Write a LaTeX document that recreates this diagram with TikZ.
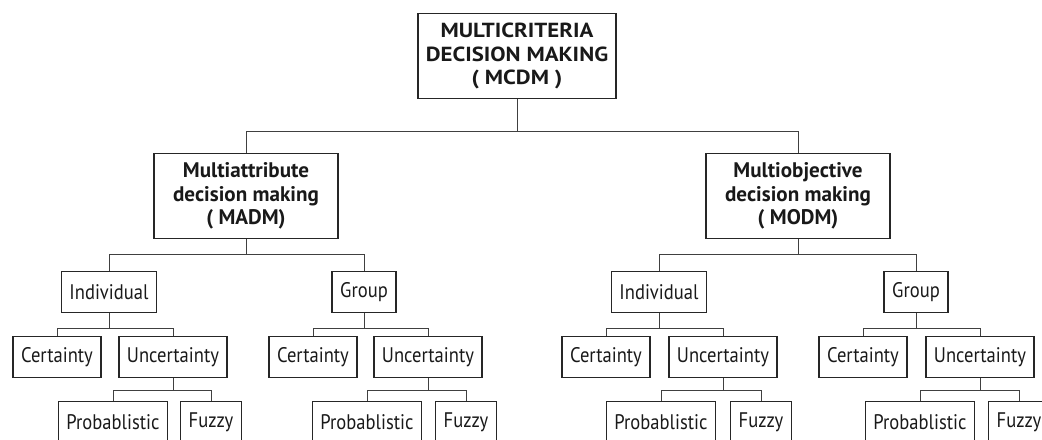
\documentclass[tikz,border=0pt]{standalone}
\usepackage{fontspec}
\setmainfont{PT Sans}
\newfontfamily\leaffont{PT Sans}[FakeStretch=0.88]
\newfontfamily\headfont{PT Sans}[FakeStretch=1.12]
\usetikzlibrary{positioning}

\begin{document}
\begin{tikzpicture}[x=0.025cm, y=0.025cm,
  box/.style={rectangle, draw=black!85, line width=1.1pt, text=black!90, align=center, inner xsep=0.2cm, inner ysep=0pt},
  head/.style={box, font=\headfont\bfseries\fontsize{14.5}{16.5}\selectfont, minimum width=4.55cm, minimum height=2.125cm},
  mid/.style={box, font=\bfseries\fontsize{15}{16.8}\selectfont, minimum width=4.6cm, minimum height=2.125cm},
  leaf/.style={box, font=\leaffont\fontsize{15}{16}\selectfont, minimum height=1.025cm},
  link/.style={draw=black!75, line width=0.7pt}]
  \useasboundingbox (0,0) rectangle (1042,-440);
  \clip (0,0) rectangle (1042,-440);
  % top
  \node[head] (mcdm) at (517,-56) {MULTICRITERIA\\DECISION MAKING\\( MCDM )};
  \node[mid] (madm) at (246,-196) {Multiattribute\\decision making\\( MADM)};
  \node[mid] (modm) at (798,-196) {Multiobjective\\decision making\\( MODM)};
  \draw[link] (mcdm.south) -- ++(0,-32) -| (madm.north);
  \draw[link] (mcdm.south) -- ++(0,-32) -| (modm.north);
  % MADM side
  \node[leaf] (ai) at (109,-292) {Individual};
  \node[leaf] (ag) at (364,-292) {Group};
  \draw[link] (madm.south) -- ++(0,-15) -| (ai.north);
  \draw[link] (madm.south) -- ++(0,-15) -| (ag.north);
  \node[leaf] (aic) at (57,-357) {Certainty};
  \node[leaf] (aiu) at (173,-357) {Uncertainty};
  \node[leaf] (agc) at (313,-357) {Certainty};
  \node[leaf] (agu) at (428,-357) {Uncertainty};
  \draw[link] (ai.south) -- ++(0,-15) -| (aic.north);
  \draw[link] (ai.south) -- ++(0,-15) -| (aiu.north);
  \draw[link] (ag.south) -- ++(0,-15) -| (agc.north);
  \draw[link] (ag.south) -- ++(0,-15) -| (agu.north);
  \node[leaf] (aip) at (113,-422) {Probablistic};
  \node[leaf] (aif) at (211,-422) {Fuzzy};
  \node[leaf] (agp) at (367,-422) {Probablistic};
  \node[leaf] (agf) at (466,-422) {Fuzzy};
  \draw[link] (aiu.south) -- ++(0,-12) -| (aip.north);
  \draw[link] (aiu.south) -- ++(0,-12) -| (aif.north);
  \draw[link] (agu.south) -- ++(0,-12) -| (agp.north);
  \draw[link] (agu.south) -- ++(0,-12) -| (agf.north);
  % MODM side
  \node[leaf] (oi) at (659,-292) {Individual};
  \node[leaf] (og) at (916,-292) {Group};
  \draw[link] (modm.south) -- ++(0,-15) -| (oi.north);
  \draw[link] (modm.south) -- ++(0,-15) -| (og.north);
  \node[leaf] (oic) at (606,-357) {Certainty};
  \node[leaf] (oiu) at (723,-357) {Uncertainty};
  \node[leaf] (ogc) at (863,-357) {Certainty};
  \node[leaf] (ogu) at (980,-357) {Uncertainty};
  \draw[link] (oi.south) -- ++(0,-15) -| (oic.north);
  \draw[link] (oi.south) -- ++(0,-15) -| (oiu.north);
  \draw[link] (og.south) -- ++(0,-15) -| (ogc.north);
  \draw[link] (og.south) -- ++(0,-15) -| (ogu.north);
  \node[leaf] (oip) at (661,-422) {Probablistic};
  \node[leaf] (oif) at (761,-422) {Fuzzy};
  \node[leaf] (ogp) at (920,-422) {Probablistic};
  \node[leaf] (ogf) at (1019,-422) {Fuzzy};
  \draw[link] (oiu.south) -- ++(0,-12) -| (oip.north);
  \draw[link] (oiu.south) -- ++(0,-12) -| (oif.north);
  \draw[link] (ogu.south) -- ++(0,-12) -| (ogp.north);
  \draw[link] (ogu.south) -- ++(0,-12) -| (ogf.north);
\end{tikzpicture}
\end{document}
